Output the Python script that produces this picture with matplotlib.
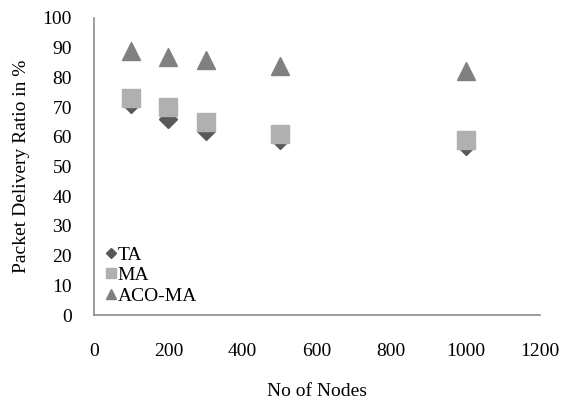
import matplotlib
matplotlib.use("Agg")
import matplotlib.pyplot as plt

nodes = [100, 200, 300, 500, 1000]
ta = [71, 66, 62, 59, 57]
ma = [73, 70, 65, 61, 59]
aco_ma = [89, 87, 86, 84, 82]
x_ticks = [0, 200, 400, 600, 800, 1000, 1200]
y_ticks = [0, 10, 20, 30, 40, 50, 60, 70, 80, 90, 100]

plt.rcParams['font.family'] = ['Liberation Serif', 'DejaVu Serif']

fig = plt.figure(figsize=(5.64, 4.0), dpi=100)
ax = fig.add_axes([94/564, 1 - 315/400, (540 - 94)/564, (315 - 18)/400])

ax.plot(nodes, ta, linestyle='none', marker='D', ms=9.2, color='#595959', mec='#595959', label='TA')
ax.plot(nodes, ma, linestyle='none', marker='s', ms=13, color='#b0b0b0', mec='#b0b0b0', label='MA')
ax.plot(nodes, aco_ma, linestyle='none', marker='^', ms=13, color='#808080', mec='#808080', label='ACO-MA')

ax.set_xlim(0, 1200)
ax.set_ylim(0, 100)
ax.set_xticks(x_ticks)
ax.set_yticks(y_ticks)
ax.tick_params(axis='both', length=0, labelsize=14)
ax.tick_params(axis='x', pad=20)
ax.tick_params(axis='y', pad=16)

for s in ['top', 'right']:
    ax.spines[s].set_visible(False)
for s in ['left', 'bottom']:
    ax.spines[s].set_color('#8c8c8c')
    ax.spines[s].set_linewidth(1.2)

ax.set_xlabel('No of Nodes', fontsize=14, labelpad=17)
ax.set_ylabel('Packet Delivery Ratio in %', fontsize=14, labelpad=9)

leg = ax.legend(loc='lower left', bbox_to_anchor=(-0.012, -0.024), frameon=False,
                fontsize=14, markerscale=0.6, handlelength=0.55, handletextpad=0.05,
                labelspacing=0.15, borderaxespad=0.5)

fig.savefig('out.png', dpi=100)
